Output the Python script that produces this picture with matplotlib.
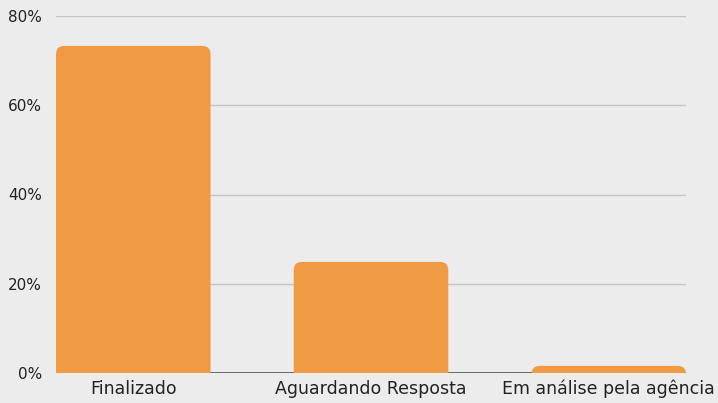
import matplotlib.pyplot as plt
from matplotlib.patches import FancyBboxPatch
from matplotlib.ticker import FuncFormatter

plt.rcParams['font.family'] = ['DejaVu Sans']

categorias = ['Finalizado', 'Aguardando Resposta', 'Em análise pela agência']
valores = [73.3, 24.9, 1.6]

cor_barra = '#F09B43'
fundo = '#ECECEC'

fig = plt.figure(figsize=(7.18, 4.03), dpi=100, facecolor=fundo)
ax = fig.add_axes([56 / 718, 30 / 403, 630 / 718, 357 / 403], facecolor=fundo)

x = list(range(len(categorias)))
largura = 0.65
bars = ax.bar(x, valores, width=largura, color='none')

# barras com cantos arredondados no topo
for b in bars:
    pad = 3
    p = FancyBboxPatch((b.get_x(), -pad), b.get_width(), b.get_height() + pad,
                       boxstyle='round,pad=0,rounding_size=0.035',
                       mutation_aspect=53, facecolor=cor_barra, edgecolor='none',
                       zorder=3)
    ax.add_patch(p)

ax.axhline(0, color='#555555', lw=1.2, zorder=2)
ax.set_xlim(-largura / 2, len(categorias) - 1 + largura / 2)
ax.set_ylim(0, 80)
ax.set_yticks([0, 20, 40, 60, 80])
ax.yaxis.set_major_formatter(FuncFormatter(lambda v, p: f'{v:.0f}%'))
ax.grid(axis='y', color='#c4c4c4', lw=1, zorder=0)
ax.set_xticks(x)
ax.set_xticklabels(categorias)
for s in ax.spines.values():
    s.set_visible(False)
ax.tick_params(axis='y', length=0, pad=10, labelsize=11, labelcolor='#222222')
ax.tick_params(axis='x', length=0, pad=5, labelsize=12.5, labelcolor='#222222')

fig.savefig('out.png', dpi=100, facecolor=fundo)
